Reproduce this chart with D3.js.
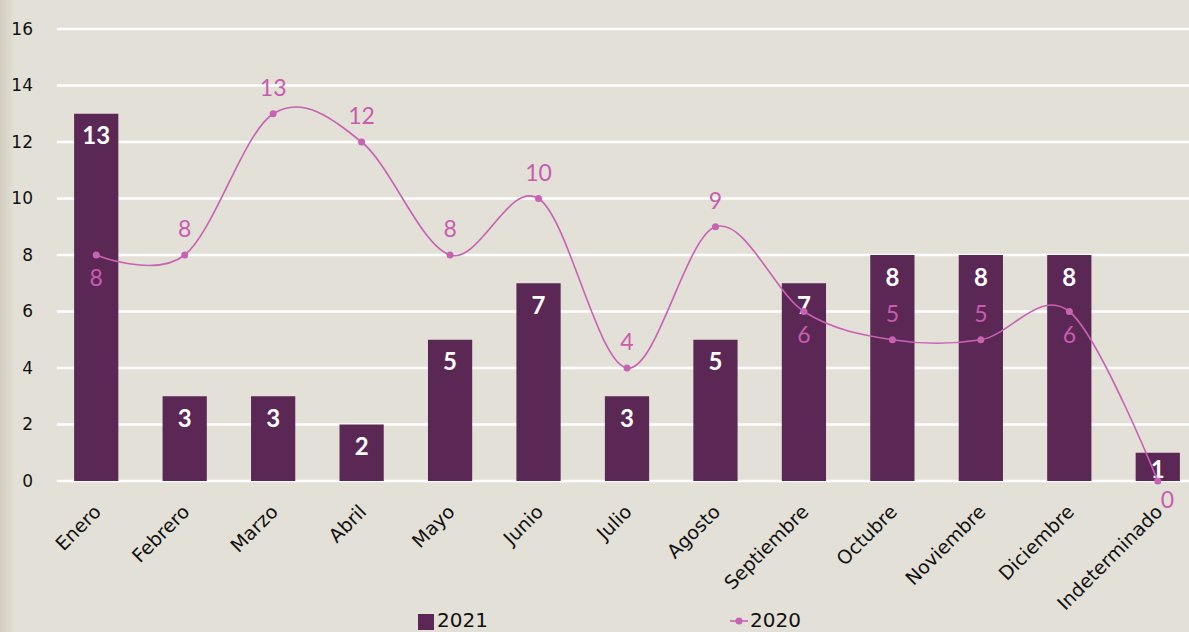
<!DOCTYPE html>
<html>
<head>
<meta charset="utf-8">
<script src="https://cdn.jsdelivr.net/npm/d3@7"></script>
<style>
  html, body { margin: 0; padding: 0; background: #e2dfd6; }
  svg { display: block; font-family: "Lato", "Noto Sans", sans-serif; }
</style>
</head>
<body>
<svg id="chart"></svg>
<script>
var meses = ['Enero', 'Febrero', 'Marzo', 'Abril', 'Mayo', 'Junio', 'Julio', 'Agosto',
  'Septiembre', 'Octubre', 'Noviembre', 'Diciembre', 'Indeterminado'];
var valores2021 = [13, 3, 3, 2, 5, 7, 3, 5, 7, 8, 8, 8, 1];
var valores2020 = [8, 8, 13, 12, 8, 10, 4, 9, 6, 5, 5, 6, 0];
var yTicks = [0, 2, 4, 6, 8, 10, 12, 14, 16];
// where the 2020 label sits: 'up', 'down' or 'right'
var pos2020 = ['down', 'up', 'up', 'up', 'up', 'up', 'up', 'up', 'down', 'up', 'up', 'down', 'right'];

var width = 1189, height = 632;
var colorBar = '#5b2755', colorLine = '#c862b2', colorLabel = '#c95cb1';
var wideFont = '"DejaVu Sans", "Noto Sans", sans-serif';

var svg = d3.select('#chart')
  .attr('width', width)
  .attr('height', height);

// faint left edge like the paper texture
var grad = svg.append('defs').append('linearGradient').attr('id', 'edge');
grad.append('stop').attr('offset', '0').attr('stop-color', '#d3cdbf');
grad.append('stop').attr('offset', '1').attr('stop-color', '#e2dfd6');
svg.append('rect').attr('width', width).attr('height', height).attr('fill', '#e3e0d7');
svg.append('rect').attr('width', 14).attr('height', height).attr('fill', 'url(#edge)');

var x = d3.scaleBand()
  .domain(meses)
  .range([52, 1202])
  .paddingInner(0.5)
  .paddingOuter(0.25);

var y = d3.scaleLinear()
  .domain([0, 16])
  .range([481, 29]);

// gridlines
svg.append('g')
  .selectAll('line')
  .data(yTicks)
  .enter()
  .append('line')
  .attr('x1', 57)
  .attr('x2', width)
  .attr('y1', d => y(d))
  .attr('y2', d => y(d))
  .attr('stroke', '#ffffff')
  .attr('stroke-width', 2.5);

// y axis labels
var yAxis = svg.append('g')
  .attr('transform', 'translate(33,0)')
  .call(d3.axisLeft(y).tickValues(yTicks).tickSize(0).tickPadding(0));
yAxis.select('.domain').remove();
yAxis.selectAll('text')
  .attr('font-size', 17)
  .attr('fill', '#111')
  .attr('font-family', wideFont);

// bars
svg.append('g')
  .selectAll('rect')
  .data(valores2021)
  .enter()
  .append('rect')
  .attr('x', (d, i) => x(meses[i]))
  .attr('y', d => y(d))
  .attr('width', x.bandwidth())
  .attr('height', d => y(0) - y(d))
  .attr('fill', colorBar);

// bar labels
svg.append('g')
  .selectAll('text')
  .data(valores2021)
  .enter()
  .append('text')
  .attr('x', (d, i) => x(meses[i]) + x.bandwidth() / 2)
  .attr('y', d => y(d) + Math.min(21, (y(0) - y(d)) / 2 + 2))
  .attr('text-anchor', 'middle')
  .attr('dominant-baseline', 'central')
  .attr('font-size', 24)
  .attr('font-weight', 'bold')
  .attr('fill', '#ffffff')
  .text(d => d);

// 2020 line
var cx = i => x(meses[i]) + x.bandwidth() / 2;
var line = d3.line()
  .x((d, i) => cx(i))
  .y(d => y(d))
  .curve(d3.curveCatmullRom.alpha(0));

svg.append('path')
  .datum(valores2020)
  .attr('d', line)
  .attr('fill', 'none')
  .attr('stroke', colorLine)
  .attr('stroke-width', 1.6);

svg.append('g')
  .selectAll('circle')
  .data(valores2020)
  .enter()
  .append('circle')
  .attr('cx', (d, i) => cx(i))
  .attr('cy', d => y(d))
  .attr('r', 3.5)
  .attr('fill', colorLine);

svg.append('g')
  .selectAll('text')
  .data(valores2020)
  .enter()
  .append('text')
  .attr('x', (d, i) => cx(i) + (pos2020[i] === 'right' ? 3 : 0))
  .attr('y', (d, i) => y(d) + (pos2020[i] === 'up' ? -27 : pos2020[i] === 'down' ? 22 : 18))
  .attr('text-anchor', (d, i) => pos2020[i] === 'right' ? 'start' : 'middle')
  .attr('dominant-baseline', 'central')
  .attr('font-size', 23)
  .attr('fill', colorLabel)
  .text(d => d);

// x axis labels, rotated
svg.append('g')
  .selectAll('text')
  .data(meses)
  .enter()
  .append('text')
  .attr('transform', d => `translate(${x(d) + x.bandwidth() / 2 + 1},${508}) rotate(-45)`)
  .attr('text-anchor', 'end')
  .attr('dominant-baseline', 'central')
  .attr('font-size', 19)
  .attr('font-family', wideFont)
  .attr('fill', '#111')
  .text(d => d);

// legend
var legend = svg.append('g');
legend.append('rect')
  .attr('x', 418).attr('y', 614)
  .attr('width', 16).attr('height', 16)
  .attr('fill', colorBar);
legend.append('text')
  .attr('x', 437).attr('y', 620)
  .attr('dominant-baseline', 'central')
  .attr('font-size', 20)
  .attr('font-family', wideFont)
  .attr('fill', '#111')
  .text('2021');
legend.append('line')
  .attr('x1', 730).attr('x2', 748)
  .attr('y1', 621).attr('y2', 621)
  .attr('stroke', colorLine).attr('stroke-width', 1.6);
legend.append('circle')
  .attr('cx', 739).attr('cy', 621).attr('r', 3.5)
  .attr('fill', colorLine);
legend.append('text')
  .attr('x', 750).attr('y', 620)
  .attr('dominant-baseline', 'central')
  .attr('font-size', 20)
  .attr('font-family', wideFont)
  .attr('fill', '#111')
  .text('2020');
</script>
</body>
</html>
